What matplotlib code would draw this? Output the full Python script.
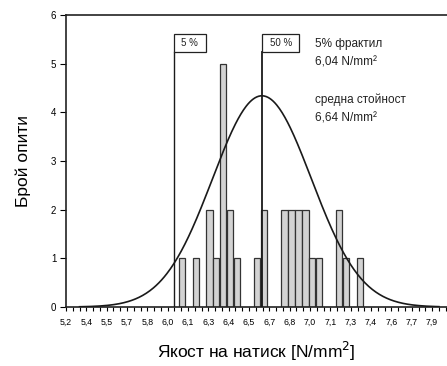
import numpy as np
import matplotlib
matplotlib.use("Agg")
import matplotlib.pyplot as plt
from matplotlib.patches import Rectangle

plt.rcParams['font.family'] = ['Liberation Sans', 'DejaVu Sans']

# histogram data (bin centres, counts)
bin_centers = [6.057, 6.159, 6.259, 6.307, 6.359, 6.411, 6.461, 6.611, 6.662,
               6.812, 6.864, 6.914, 6.966, 7.015, 7.066, 7.214, 7.265, 7.369]
counts = [1, 1, 2, 1, 5, 2, 1, 1, 2, 2, 2, 2, 2, 1, 1, 2, 1, 1]

# fitted normal curve parameters
mean_val = 6.645
sd_val = 0.365
peak_val = 4.34

# reference lines
frac5_x = 5.995
frac50_x = 6.648
line_top = 5.24
box_top = 5.6

tick_positions = [5.2 + 0.15 * i for i in range(19)]
tick_labels = ["5,2", "5,4", "5,5", "5,7", "5,8", "6,0", "6,1", "6,3", "6,4", "6,5",
               "6,7", "6,8", "7,0", "7,1", "7,3", "7,4", "7,6", "7,7", "7,9"]
minor_positions = [5.2 + 0.05 * i for i in range(57)]

fig = plt.figure(figsize=(4.47, 3.66), dpi=100)
ax = fig.add_axes([66/447, 59/366, 1 - 66/447, (307-15)/366])

ax.bar(bin_centers, counts, width=0.047, color='#d3d3d3', edgecolor='#333333',
       linewidth=0.9, zorder=2)

xs = np.linspace(5.3, 7.95, 400)
ys = peak_val * np.exp(-0.5 * ((xs - mean_val) / sd_val) ** 2)
ax.plot(xs, ys, color='#1a1a1a', lw=1.2, zorder=3)

ax.plot([frac5_x, frac5_x], [0, line_top], color='#1a1a1a', lw=1.0, zorder=4)
ax.plot([frac50_x, frac50_x], [0, line_top], color='#1a1a1a', lw=1.3, zorder=4)

for xv, txt, w in [(frac5_x, "5 %", 0.236), (frac50_x, "50 %", 0.27)]:
    ax.add_patch(Rectangle((xv, line_top), w, box_top - line_top, fc='white',
                           ec='#222222', lw=0.9, zorder=5))
    ax.text(xv + w / 2, (line_top + box_top) / 2, txt, ha='center', va='center',
            fontsize=7, color='#222222', zorder=6)

tx = 7.04
ax.text(tx, 5.41, "5% фрактил", fontsize=8.5, va='center', ha='left', color='#222222')
ax.text(tx, 5.03, "6,04 N/mm²", fontsize=8.5, va='center', ha='left', color='#222222')
ax.text(tx, 4.26, "средна стойност", fontsize=8.5, va='center', ha='left', color='#222222')
ax.text(tx, 3.87, "6,64 N/mm²", fontsize=8.5, va='center', ha='left', color='#222222')

ax.set_xlim(5.2, 8.01)
ax.set_ylim(0, 6)
ax.set_xticks(tick_positions)
ax.set_xticklabels(tick_labels, fontsize=6.3)
ax.set_xticks(minor_positions, minor=True)
ax.set_yticks(range(7))
ax.set_yticklabels([str(i) for i in range(7)], fontsize=7)
ax.tick_params(axis='x', which='both', direction='out', length=3, width=0.8, pad=5)
ax.tick_params(axis='y', direction='out', length=4, width=0.8, pad=3)

for s in ['left', 'bottom', 'top']:
    ax.spines[s].set_linewidth(1.2)
    ax.spines[s].set_color('#222222')
ax.spines['right'].set_visible(False)

ax.set_ylabel("Брой опити", fontsize=12.5, labelpad=14)
ax.set_xlabel("Якост на натиск [N/mm$^2$]", fontsize=12.5, labelpad=9)

fig.savefig("out.png", dpi=100)
